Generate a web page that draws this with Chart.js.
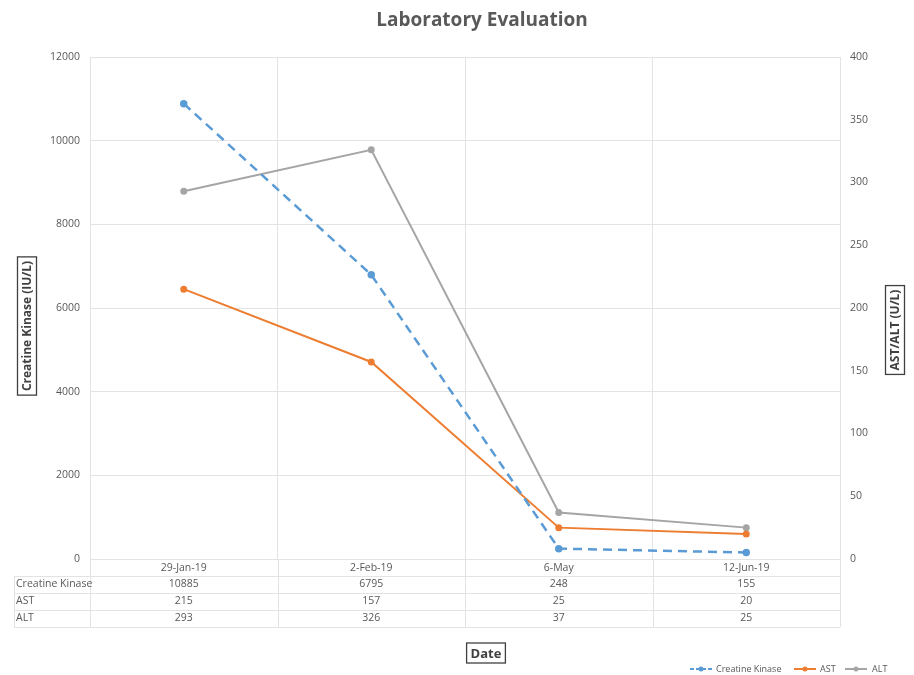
<!DOCTYPE html>
<html><head><meta charset="utf-8">
<script src="https://cdn.jsdelivr.net/npm/chart.js@4"></script>
<style>html,body{margin:0;padding:0;background:#fff}#wrap{width:914px;height:675px}</style>
</head><body><div id="wrap"><canvas id="c"></canvas></div>
<script>
const categories = ['29-Jan-19', '2-Feb-19', '6-May', '12-Jun-19'];
const ckValues = [10885, 6795, 248, 155];
const astValues = [215, 157, 25, 20];
const altValues = [293, 326, 37, 25];
const seriesNames = ['Creatine Kinase', 'AST', 'ALT'];
const colors = ['#5B9BD5', '#ED7D31', '#A5A5A5'];
const TXT = '#595959';
const GRID = '#E3E3E3';
const FONT = "'Open Sans', 'Liberation Sans', sans-serif";

const extras = {
  id: 'extras',
  afterDraw(chart) {
    const ctx = chart.ctx;
    const xs = chart.scales.x;
    const area = chart.chartArea;
    ctx.save();
    // title
    ctx.fillStyle = TXT;
    ctx.font = 'bold 19px ' + FONT;
    ctx.textAlign = 'center';
    ctx.textBaseline = 'middle';
    ctx.fillText('Laboratory Evaluation', 482, 21);

    // data table
    const rowH = 17;
    const top = area.bottom + 17;
    const rows = [ckValues, astValues, altValues];
    ctx.strokeStyle = GRID;
    ctx.lineWidth = 1;
    for (let i = 0; i <= rows.length; i++) {
      const y = Math.round(top + i * rowH) + 0.5;
      ctx.beginPath(); ctx.moveTo(14, y); ctx.lineTo(area.right, y); ctx.stroke();
    }
    ctx.beginPath(); ctx.moveTo(14.5, top); ctx.lineTo(14.5, top + rows.length * rowH); ctx.stroke();
    const step = (area.right - area.left) / categories.length;
    for (let i = 0; i <= categories.length; i++) {
      const x = Math.round(area.left + i * step) + 0.5;
      ctx.beginPath(); ctx.moveTo(x, area.bottom); ctx.lineTo(x, top + rows.length * rowH); ctx.stroke();
    }
    ctx.font = '10.5px ' + FONT;
    ctx.fillStyle = TXT;
    rows.forEach((vals, r) => {
      const y = top + r * rowH + rowH / 2;
      ctx.textAlign = 'left';
      ctx.fillText(seriesNames[r], 16, y);
      ctx.textAlign = 'center';
      vals.forEach((v, i) => ctx.fillText(String(v), xs.getPixelForValue(i), y));
    });

    // boxed axis titles
    function boxed(text, cx, cy, rot, size) {
      ctx.save();
      ctx.translate(cx, cy);
      ctx.rotate(rot);
      ctx.font = 'bold ' + size + 'px ' + FONT;
      const w = ctx.measureText(text).width;
      const h = size + 7;
      ctx.strokeStyle = '#404040';
      ctx.lineWidth = 1.3;
      ctx.strokeRect(-w / 2 - 4, -h / 2, w + 8, h);
      ctx.fillStyle = '#404040';
      ctx.textAlign = 'center';
      ctx.textBaseline = 'middle';
      ctx.fillText(text, 0, 1);
      ctx.restore();
    }
    boxed('Creatine Kinase (IU/L)', 27, 326, -Math.PI / 2, 12);
    boxed('AST/ALT (U/L)', 895, 330, -Math.PI / 2, 12);
    boxed('Date', 486, 653, 0, 13);

    // legend
    ctx.font = '9px ' + FONT;
    ctx.textBaseline = 'middle';
    ctx.textAlign = 'left';
    const ly = 669;
    const items = [[690, 716], [794, 820], [845, 872]];
    items.forEach((it, i) => {
      ctx.strokeStyle = colors[i];
      ctx.lineWidth = 2;
      ctx.setLineDash(i === 0 ? [4, 2] : []);
      ctx.beginPath(); ctx.moveTo(it[0], ly); ctx.lineTo(it[0] + 22, ly); ctx.stroke();
      ctx.setLineDash([]);
      ctx.fillStyle = colors[i];
      ctx.beginPath(); ctx.arc(it[0] + 11, ly, 2.5, 0, Math.PI * 2); ctx.fill();
      ctx.fillStyle = TXT;
      ctx.fillText(seriesNames[i], it[1], ly);
    });
    ctx.restore();
  }
};

new Chart(document.getElementById('c'), {
  type: 'line',
  data: {
    labels: categories,
    datasets: [
      { label: seriesNames[0], data: ckValues, yAxisID: 'y', borderColor: colors[0], backgroundColor: colors[0],
        borderWidth: 2.5, borderDash: [9, 6], pointRadius: 2.5, pointHoverRadius: 2.5, tension: 0 },
      { label: seriesNames[1], data: astValues, yAxisID: 'y1', borderColor: colors[1], backgroundColor: colors[1],
        borderWidth: 2, pointRadius: 2.5, pointHoverRadius: 2.5, tension: 0 },
      { label: seriesNames[2], data: altValues, yAxisID: 'y1', borderColor: colors[2], backgroundColor: colors[2],
        borderWidth: 2, pointRadius: 2.5, pointHoverRadius: 2.5, tension: 0 }
    ]
  },
  options: {
    responsive: true,
    maintainAspectRatio: false,
    animation: false,
    layout: { padding: { top: 57, left: 0, right: 0, bottom: 0 } },
    plugins: { legend: { display: false }, title: { display: false }, tooltip: { enabled: false } },
    scales: {
      x: {
        offset: true,
        grid: { offset: true, color: GRID, drawTicks: false },
        border: { color: GRID },
        ticks: { color: TXT, font: { size: 10.5, family: FONT }, padding: 3, maxRotation: 0 },
        afterFit(s) { s.height = 116; }
      },
      y: {
        position: 'left', min: 0, max: 12000,
        grid: { color: GRID, drawTicks: false },
        border: { color: GRID },
        ticks: { stepSize: 2000, color: TXT, font: { size: 10.5, family: FONT }, padding: 10,
                 callback: v => String(v) },
        afterFit(s) { s.width = 90; }
      },
      y1: {
        position: 'right', min: 0, max: 400,
        grid: { display: false, drawTicks: false },
        border: { color: GRID },
        ticks: { stepSize: 50, color: TXT, font: { size: 10.5, family: FONT }, padding: 10,
                 callback: v => String(v) },
        afterFit(s) { s.width = 74; }
      }
    }
  },
  plugins: [extras]
});
</script>
</body></html>
